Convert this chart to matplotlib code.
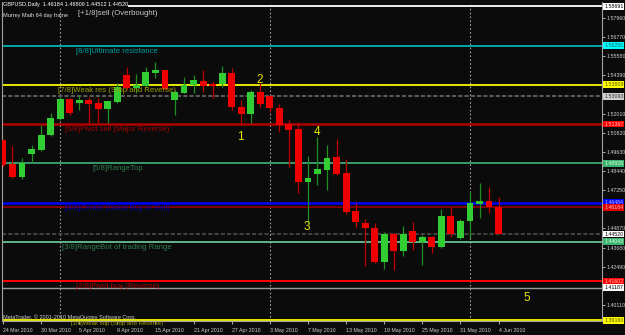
import matplotlib
matplotlib.use("Agg")
import matplotlib.pyplot as plt
import numpy as np

# ---------------- data ----------------
date_labels = ["24 Mar 2010", "30 Mar 2010", "5 Apr 2010", "9 Apr 2010", "15 Apr 2010",
               "21 Apr 2010", "27 Apr 2010", "3 May 2010", "7 May 2010", "13 May 2010",
               "19 May 2010", "25 May 2010", "31 May 2010", "4 Jun 2010"]
date_idx = [0, 4, 8, 12, 16, 20, 24, 28, 32, 36, 40, 44, 48, 52]
month_starts = [6, 28, 49]

opens = [1.5037, 1.4888, 1.4807, 1.4950, 1.4975, 1.5068, 1.5168, 1.5292, 1.5267, 1.5286,
         1.5267, 1.5230, 1.5274, 1.5442, 1.5361, 1.5373, 1.5454, 1.5473, 1.5286, 1.5330,
         1.5379, 1.5404, 1.5386, 1.5386, 1.5454, 1.5242, 1.5199, 1.5336, 1.5311, 1.5236,
         1.5137, 1.5106, 1.4776, 1.4826, 1.4851, 1.4931, 1.4832, 1.4596, 1.4521, 1.4490,
         1.4278, 1.4452, 1.4347, 1.4471, 1.4403, 1.4434, 1.4372, 1.4565, 1.4428, 1.4533,
         1.4639, 1.4658, 1.46184]
highs = [1.5043, 1.5000, 1.4925, 1.5006, 1.5131, 1.5205, 1.5305, 1.5298, 1.5317, 1.5305,
         1.5298, 1.5280, 1.5392, 1.5491, 1.5448, 1.5491, 1.5522, 1.5475, 1.5348, 1.5429,
         1.5442, 1.5473, 1.5398, 1.5498, 1.5485, 1.5286, 1.5348, 1.5392, 1.5317, 1.5261,
         1.5162, 1.5149, 1.4938, 1.5056, 1.5006, 1.5043, 1.4919, 1.4645, 1.4546, 1.4521,
         1.4465, 1.4459, 1.4502, 1.4527, 1.4446, 1.4440, 1.4608, 1.4620, 1.4546, 1.4720,
         1.4770, 1.4745, 1.46809]
lows = [1.4869, 1.4801, 1.4795, 1.4894, 1.4970, 1.5062, 1.5162, 1.5193, 1.5224, 1.5143,
        1.5143, 1.5143, 1.5267, 1.5348, 1.5330, 1.5367, 1.5423, 1.5348, 1.5193, 1.5330,
        1.5330, 1.5336, 1.5298, 1.5367, 1.5224, 1.5131, 1.5143, 1.5242, 1.5211, 1.5087,
        1.4869, 1.4708, 1.4521, 1.4757, 1.4726, 1.4820, 1.4577, 1.4496, 1.4254, 1.4272,
        1.4235, 1.4229, 1.4316, 1.4353, 1.4260, 1.4334, 1.4366, 1.4434, 1.4421, 1.4428,
        1.4552, 1.4583, 1.44512]
closes = [1.4882, 1.4807, 1.4894, 1.4981, 1.5068, 1.5174, 1.5292, 1.5205, 1.5286, 1.5261,
          1.5230, 1.5280, 1.5367, 1.5361, 1.5379, 1.5460, 1.5473, 1.5354, 1.5336, 1.5379,
          1.5410, 1.5373, 1.5373, 1.5454, 1.5242, 1.5199, 1.5336, 1.5261, 1.5236, 1.5131,
          1.5100, 1.4776, 1.4801, 1.4857, 1.4925, 1.4826, 1.4589, 1.4527, 1.4490, 1.4278,
          1.4452, 1.4347, 1.4452, 1.4403, 1.4434, 1.4372, 1.4565, 1.4452, 1.4533, 1.4645,
          1.4658, 1.46184, 1.44520]

murrey_levels = [1.58691, 1.56250, 1.53809, 1.51367, 1.48926, 1.46484, 1.44043, 1.41602, 1.39160]
murrey_labels = ["[+1/8]sell (Overbought)", "[8/8]Ultimate resistance",
                 "[7/8]Weak res (Stop and Reverse)", "[6/8]Pivot sell (Major Reverse)",
                 "[5/8]RangeTop", "[4/8]Center (Good Buy or Sell)",
                 "[3/8]RangeBot of trading Range", "[2/8]Pivot buy (Reverse)",
                 "[1/8]Weak sup (Stop and Reverse)"]
extra_levels = [1.53093, 1.46184, 1.44520, 1.41187]

# visible price-scale ticks (others are hidden behind level boxes)
price_ticks = [1.57960, 1.56770, 1.55580, 1.54390, 1.52010, 1.50820, 1.49630,
               1.48440, 1.47250, 1.44870, 1.43680, 1.42490, 1.40110]

wave_labels = ["1", "2", "3", "4", "5"]
wave_x = [24.9, 26.9, 31.9, 32.9, 55.0]
wave_y = [1.5056, 1.5410, 1.4496, 1.5087, 1.4055]

# ---------------- styles ----------------
BG = "#0b0b0b"
FONT = "Liberation Sans"
plt.rcParams["font.family"] = [FONT, "DejaVu Sans"]

murrey_line_colors = ["#ffffff", "#00a8a8", "#e8e800", "#b00000", "#3a9a6a",
                      "#0000ff", "#6fcf9f", "#ff0000", "#e8e800"]
murrey_line_widths = [1.3, 1.4, 1.4, 1.8, 1.4, 1.8, 1.2, 1.4, 1.4]
murrey_text_colors = ["#c8c8c8", "#00a0a0", "#a0a000", "#a80000", "#2e7d4f",
                      "#0000c0", "#2e7d4f", "#b00000", "#a0a000"]
murrey_text_sizes = [5.6, 5.6, 5.6, 5.6, 5.6, 5.6, 5.6, 5.6, 4.3]
murrey_text_offsets = [-2.4, -1.5, -1.5, -1.5, -1.5, -1.5, -1.5, -1.5, -0.5]
murrey_box_fc = ["#ffffff", "#00ffff", "#ffff00", "#ff0000", "#3cb371",
                 "#0000ff", "#3cb371", "#ff0000", "#ffff00"]
murrey_box_tc = ["#000000", "#006060", "#505000", "#ffc0c0", "#e0ffe0",
                 "#c0c0ff", "#e0ffe0", "#ffc0c0", "#505000"]
extra_colors = ["#5a5a5a", "#800000", "#404040", "#9a9a9a"]
extra_styles = [(0, (2, 1)), "-", (0, (2, 1)), "-"]
extra_widths = [1.5, 1.4, 1.5, 1.0]
extra_box_fc = ["#d0d0d0", "#e00000", "#ffffff", "#ffffff"]
extra_box_tc = ["#303030", "#ffc0c0", "#000000", "#000000"]

fig = plt.figure(figsize=(6.25, 3.35), dpi=100, facecolor=BG)
ax = fig.add_axes([2 / 625, 14 / 335, 600 / 625, 319 / 335], facecolor=BG)
ax.set_xlim(-0.1, 62.85)
ax.set_ylim(1.39114, 1.58956)

# month separators
for m in month_starts:
    ax.axvline(m, color="#a0a0a0", lw=0.8, ls=(0, (1.5, 2)), zorder=1)

# horizontal lines
for lv, c, ls, lw in zip(extra_levels, extra_colors, extra_styles, extra_widths):
    ax.axhline(lv, color=c, ls=ls, lw=lw, zorder=1.2)
for lv, c, lw in zip(murrey_levels, murrey_line_colors, murrey_line_widths):
    ax.axhline(lv, color=c, lw=lw, zorder=1.3)

# candles
x = np.arange(len(opens))
o = np.array(opens); h = np.array(highs); l = np.array(lows); c = np.array(closes)
up = c >= o
body_col = np.where(up, "#32cd32", "#ee0000")
wick_col = np.where(up, "#1f8f1f", "#c00000")
ax.vlines(x, l, h, colors=wick_col, lw=0.9, zorder=3)
bottoms = np.minimum(o, c)
heights = np.maximum(np.abs(c - o), 0.00025)
ax.bar(x, heights, bottom=bottoms, width=0.72, color=body_col, edgecolor="none", zorder=4)

# header texts
ax.text(0.002, 0.999, "GBPUSD,Daily  1.46184 1.46809 1.44512 1.44520", transform=ax.transAxes,
        color="#ffffff", fontsize=4.0, ha="left", va="top", zorder=7,
        bbox=dict(boxstyle="square,pad=0.0", fc=BG, ec="none"))
ax.text(0.002, 0.966, "Murrey Math 64 day frame", transform=ax.transAxes,
        color="#e0e0e0", fontsize=4.0, ha="left", va="top", zorder=7)
ax.text(0.002, 0.004, "MetaTrader, \u00a9 2001-2010 MetaQuotes Software Corp.", transform=ax.transAxes,
        color="#d0d0d0", fontsize=4.0, ha="left", va="bottom", zorder=7)

# murrey labels (centred under their lines)
for lv, txt, tc, fs, off in zip(murrey_levels, murrey_labels, murrey_text_colors,
                                murrey_text_sizes, murrey_text_offsets):
    ax.annotate(txt, xy=(12, lv), xytext=(0, off), textcoords="offset points",
                ha="center", va="top", fontsize=fs, color=tc, zorder=8,
                annotation_clip=False)

# wave numbers
for t, wx, wy in zip(wave_labels, wave_x, wave_y):
    ax.text(wx, wy, t, color="#e6e600", fontsize=8.5, ha="center", va="center", zorder=6)

# price axis
ax.yaxis.tick_right()
ax.set_yticks(price_ticks)
ax.set_yticklabels([f"{p:.5f}" for p in price_ticks])
ax.tick_params(axis="y", colors="#d0d0d0", labelsize=3.8, length=2, width=0.6, pad=1.0)
ax.set_xticks(date_idx)
ax.set_xticklabels(date_labels, ha="left")
ax.tick_params(axis="x", colors="#d0d0d0", labelsize=3.8, length=2, width=0.6, pad=3.0)

ytr = ax.get_yaxis_transform()
for lv, fc, tc in list(zip(murrey_levels, murrey_box_fc, murrey_box_tc)) + \
        list(zip(extra_levels, extra_box_fc, extra_box_tc)):
    ax.text(1.0035, lv, f"{lv:.5f}", transform=ytr, ha="left", va="center",
            fontsize=3.8, color=tc, zorder=10, clip_on=False,
            bbox=dict(boxstyle="square,pad=0.15", fc=fc, ec="none"))

for side in ["left", "right", "bottom"]:
    ax.spines[side].set_color("#a0a0a0")
    ax.spines[side].set_linewidth(0.8)
ax.spines["top"].set_visible(False)

fig.savefig("out.png", dpi=100, facecolor=BG)
